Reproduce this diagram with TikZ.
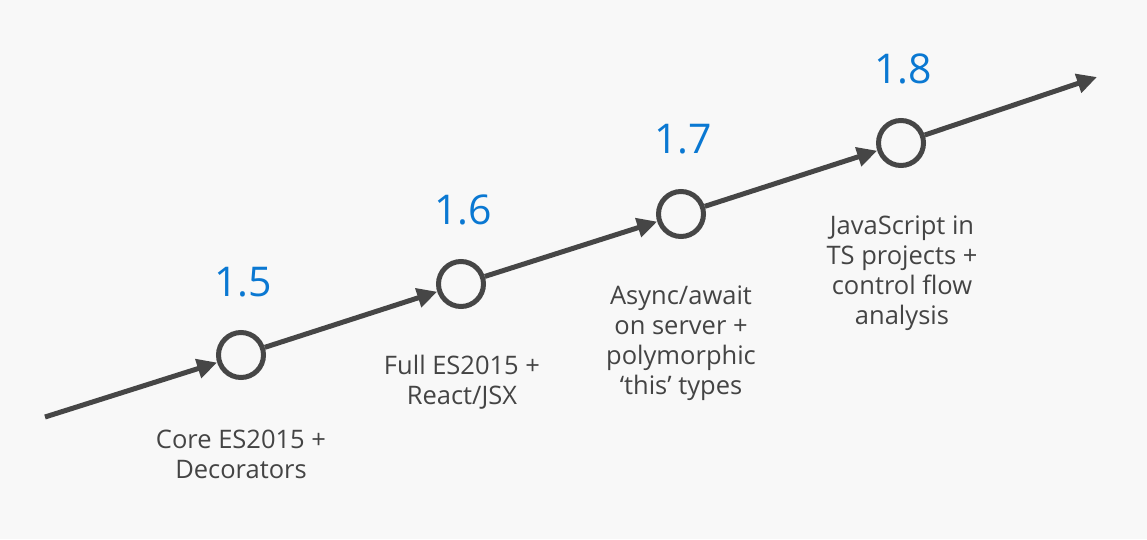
\documentclass[tikz,border=0pt]{standalone}
\usepackage{fontspec}
\setmainfont{Open Sans}
\usetikzlibrary{arrows.meta}
\definecolor{bg}{HTML}{F8F8F8}
\definecolor{ln}{HTML}{464646}
\definecolor{bl}{HTML}{0A78D2}
\definecolor{tx}{HTML}{444444}
\tikzset{
  ver/.style={circle,draw=ln,line width=5pt,minimum size=45pt,inner sep=0pt,fill=bg},
  conn/.style={draw=ln,line width=5pt,-{Triangle[length=20pt,width=19pt]}},
  num/.style={text=bl,font=\fontsize{41}{41}\selectfont},
  lab/.style={text=tx,align=center,font=\fontsize{25.5}{30}\selectfont}
}
\begin{document}
\begin{tikzpicture}[x=1pt,y=-1pt]
\fill[bg] (0,0) rectangle (1147,539);
\useasboundingbox (0,0) rectangle (1147,539);
\coordinate (s) at (45,417);
\coordinate (e) at (1097,77);
\node[ver] (c1) at (241,355) {};
\node[ver] (c2) at (461,284) {};
\node[ver] (c3) at (681,214) {};
\node[ver] (c4) at (901,143) {};
\draw[conn] (s) -- (c1);
\draw[conn] (c1) -- (c2);
\draw[conn] (c2) -- (c3);
\draw[conn] (c3) -- (c4);
\draw[conn] (c4) -- (e);
\node[num] (n1) at (243,282) {1.5};
\node[num] (n2) at (463,210) {1.6};
\node[num] (n3) at (683,139) {1.7};
\node[num] (n4) at (903,69) {1.8};
\node[lab] (l1) at (241,454) {Core ES2015 +\\Decorators};
\node[lab] (l2) at (462,382) {Full ES2015 +\\React/JSX};
\node[lab] (l3) at (681,343) {Async/await\\on server +\\polymorphic\\‘this’ types};
\node[lab] (l4) at (902,273) {JavaScript in\\TS projects +\\control flow\\analysis};
\end{tikzpicture}
\end{document}
